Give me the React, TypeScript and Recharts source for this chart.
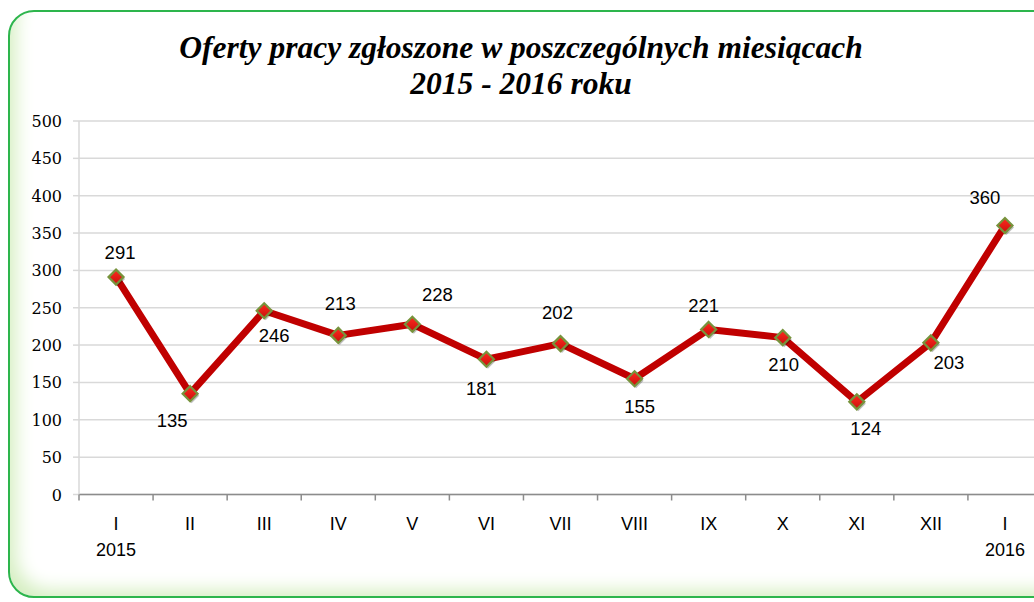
import React from 'react'
import { LineChart, Line, XAxis, YAxis, CartesianGrid, LabelList } from 'recharts'

const MONTHS = ['I', 'II', 'III', 'IV', 'V', 'VI', 'VII', 'VIII', 'IX', 'X', 'XI', 'XII', 'I']
const YEARS = ['2015', '', '', '', '', '', '', '', '', '', '', '', '2016']
const OFFERS = [291, 135, 246, 213, 228, 181, 202, 155, 221, 210, 124, 203, 360]
const Y_TICKS = [0, 50, 100, 150, 200, 250, 300, 350, 400, 450, 500]

// label nudges, [dx, dy] from the marker
const LABEL_NUDGE: [number, number][] = [
  [4, -25], [-18, 27], [10, 25], [2, -32], [25, -30], [-5, 29], [-3, -31],
  [5, 28], [-5, -24], [1, 27], [9, 27], [18, 20], [-20, -28],
]

const data = MONTHS.map((m, i) => ({ key: `${m}-${i}`, month: m, year: YEARS[i], value: OFFERS[i] }))

const SANS = 'Liberation Sans'
const SERIF = 'Liberation Serif'
const AXIS_SERIF = 'DejaVu Serif'

function Diamond(props: any) {
  const { cx, cy, index } = props
  if (cx == null || cy == null) return null
  const r = 7.5
  const pts = `${cx},${cy - r} ${cx + r},${cy} ${cx},${cy + r} ${cx - r},${cy}`
  return (
    <g key={`d-${index}`}>
      <polygon points={pts} transform="translate(1.5,2)" fill="rgba(0,0,0,0.25)" />
      <polygon points={pts} fill="url(#dotFill)" stroke="#77933c" strokeWidth={2.2} />
    </g>
  )
}

function MonthTick(props: any) {
  const { x, y, payload, index } = props
  const half = payload?.offset || 37.04
  const i = payload?.index ?? index
  return (
    <g>
      <line x1={x - half} y1={y - 8} x2={x - half} y2={y - 2} stroke="#8c8c8c" strokeWidth={1.5} />
      <text x={x} y={y + 27} textAnchor="middle" fill="#000" fontFamily={SANS} fontSize={18}>
        {MONTHS[i]}
      </text>
      {YEARS[i] && (
        <text x={x} y={y + 53} textAnchor="middle" fill="#000" fontFamily={SANS} fontSize={18}>
          {YEARS[i]}
        </text>
      )}
    </g>
  )
}

function ValueTick(props: any) {
  const { x, y, payload } = props
  return (
    <text x={x} y={y + 6} textAnchor="end" fill="#000" fontFamily={AXIS_SERIF} fontSize={16}>
      {payload.value}
    </text>
  )
}

function ValueLabel(props: any) {
  const { x, y, value, index } = props
  const [dx, dy] = LABEL_NUDGE[index] || [0, -25]
  return (
    <text x={x + dx} y={y + dy + 6.5} textAnchor="middle"
          fill="#000" fontFamily={SANS} fontSize={18.5}>
      {value}
    </text>
  )
}

export default function App() {
  return (
    <div style={{
      position: 'fixed', left: 0, top: 0, width: 1034, height: 602,
      overflow: 'hidden', background: '#fff',
    }}>
      <div style={{
        position: 'absolute', left: 8, top: 10, width: 1060, height: 584,
        border: '2px solid #2db54c', borderRadius: 26, background: '#fff',
        boxShadow: 'inset 16px -16px 18px -10px #d6efc2',
      }} />

      <div style={{
        position: 'absolute', left: 0, top: 30, width: 1042, textAlign: 'center',
        fontFamily: SERIF, fontWeight: 'bold', fontStyle: 'italic', fontSize: 31.5,
        lineHeight: '36px', color: '#000',
      }}>
        Oferty pracy zgłoszone w poszczególnych miesiącach<br />
        2015 - 2016 roku
      </div>

      <div style={{ position: 'absolute', left: 0, top: 0 }}>
        <LineChart width={1042} height={602} data={data}
                   margin={{ top: 121, right: 0, left: 0, bottom: 17.5 }}>
          <defs>
            <linearGradient id="dotFill" x1="0" y1="0" x2="0" y2="1">
              <stop offset="0%" stopColor="#ff2a1f" />
              <stop offset="100%" stopColor="#c8100c" />
            </linearGradient>
          </defs>
          <CartesianGrid vertical={false} stroke="#d9d9d9" strokeWidth={1.5} />
          <XAxis dataKey="key" scale="band" interval={0} height={90}
                 axisLine={{ stroke: '#8c8c8c', strokeWidth: 1.5 }}
                 tickLine={false} tick={<MonthTick />} />
          <YAxis domain={[0, 500]} ticks={Y_TICKS} width={79} interval={0}
                 axisLine={{ stroke: '#d9d9d9', strokeWidth: 1.5 }}
                 tickLine={{ stroke: '#d9d9d9', strokeWidth: 1.5 }} tickSize={6} tickMargin={11}
                 tick={<ValueTick />} />
          <Line type="linear" dataKey="value" stroke="#c00000" strokeWidth={7}
                strokeLinejoin="round" dot={<Diamond />} activeDot={false}
                isAnimationActive={false}>
            <LabelList dataKey="value" content={<ValueLabel />} />
          </Line>
        </LineChart>
      </div>
    </div>
  )
}
